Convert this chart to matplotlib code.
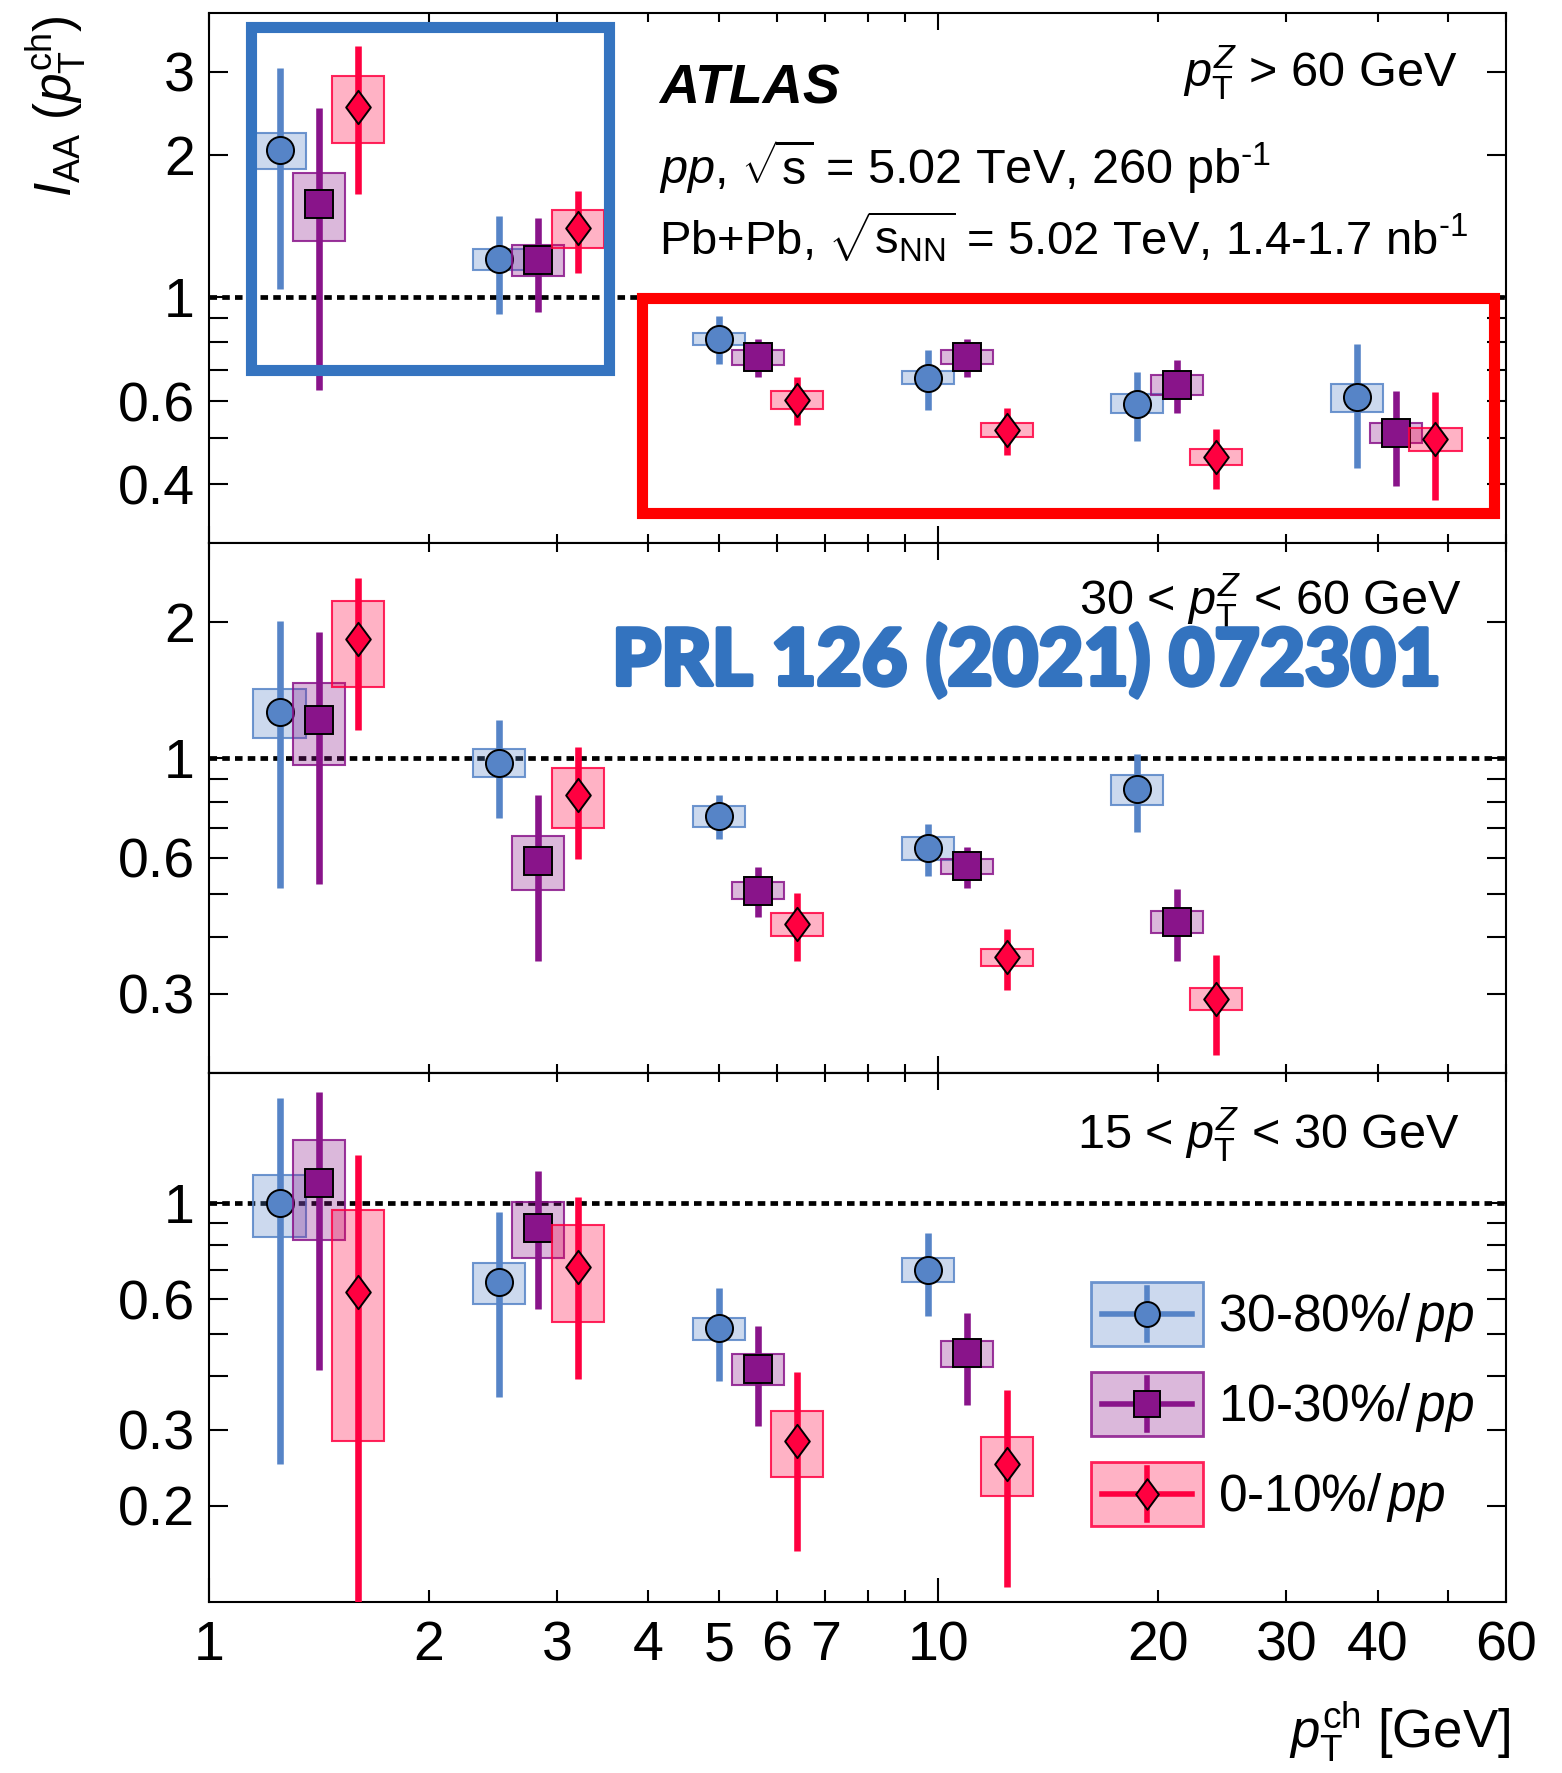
import numpy as np
import matplotlib
matplotlib.use('Agg')
import matplotlib.pyplot as plt
from matplotlib.patches import Rectangle
from matplotlib.lines import Line2D
from matplotlib.path import Path
from matplotlib.ticker import NullFormatter
from matplotlib.colors import to_rgba
import matplotlib.patheffects as pe

plt.rcParams['font.family'] = ['Liberation Sans', 'DejaVu Sans']
plt.rcParams['mathtext.fontset'] = 'custom'
plt.rcParams['mathtext.rm'] = 'Liberation Sans'
plt.rcParams['mathtext.it'] = 'Liberation Sans:italic'
plt.rcParams['mathtext.bf'] = 'Liberation Sans:bold'
plt.rcParams['mathtext.sf'] = 'Liberation Sans'

# ---------------- data ----------------
pt_edges = [1, 2, 4, 8, 15, 30, 60]
legend_labels = ['30-80%/$\\,pp$', '10-30%/$\\,pp$', '0-10%/$\\,pp$']
panel_labels = [r'$p_{\mathrm{T}}^{Z}$ > 60 GeV',
                r'30 < $p_{\mathrm{T}}^{Z}$ < 60 GeV',
                r'15 < $p_{\mathrm{T}}^{Z}$ < 30 GeV']

# pTZ > 60 GeV
iaa60_c3080 = [2.05, 1.20, 0.815, 0.673, 0.593, 0.612]
stat60_c3080 = [1.01, 0.28, 0.097, 0.099, 0.10, 0.18]
sys60_c3080 = [0.18, 0.06, 0.024, 0.022, 0.027, 0.042]
iaa60_c1030 = [1.574, 1.197, 0.744, 0.744, 0.650, 0.514]
stat60_c1030 = [0.94, 0.27, 0.07, 0.07, 0.085, 0.117]
sys60_c1030 = [0.26, 0.09, 0.028, 0.025, 0.031, 0.025]
iaa60_c010 = [2.53, 1.40, 0.604, 0.521, 0.457, 0.498]
stat60_c010 = [0.88, 0.28, 0.07, 0.059, 0.067, 0.128]
sys60_c010 = [0.41, 0.13, 0.026, 0.017, 0.018, 0.028]

# 30 < pTZ < 60 GeV
iaa30_c3080 = [1.266, 0.977, 0.743, 0.630, 0.852]
stat30_c3080 = [0.75, 0.24, 0.083, 0.083, 0.167]
sys30_c3080 = [0.157, 0.07, 0.04, 0.037, 0.066]
iaa30_c1030 = [1.216, 0.591, 0.508, 0.575, 0.433]
stat30_c1030 = [0.69, 0.236, 0.065, 0.06, 0.078]
sys30_c1030 = [0.25, 0.082, 0.022, 0.023, 0.025]
iaa30_c010 = [1.835, 0.826, 0.428, 0.361, 0.2925]
stat30_c010 = [0.68, 0.23, 0.074, 0.056, 0.073]
sys30_c010 = [0.395, 0.126, 0.026, 0.015, 0.017]

# 15 < pTZ < 30 GeV
iaa15_c3080 = [1.0, 0.657, 0.514, 0.703]
stat15_c3080 = [0.75, 0.30, 0.125, 0.153]
sys15_c3080 = [0.164, 0.071, 0.03, 0.044]
iaa15_c1030 = [1.112, 0.878, 0.4136, 0.45]
stat15_c1030 = [0.70, 0.307, 0.108, 0.108]
sys15_c1030 = [0.29, 0.13, 0.034, 0.032]
iaa15_c010 = [0.623, 0.712, 0.2826, 0.2503]
stat15_c010 = [0.67, 0.32, 0.125, 0.12]
sys15_c010 = [0.34, 0.18, 0.049, 0.039]

ylims = [(0.3, 4.0), (0.2, 3.0), (0.12, 2.0)]
y_major = [[0.4, 0.6, 1, 2, 3], [0.3, 0.6, 1, 2], [0.2, 0.3, 0.6, 1]]
y_major_labels = [['0.4', '0.6', '1', '2', '3'], ['0.3', '0.6', '1', '2'],
                  ['0.2', '0.3', '0.6', '1']]
y_minor = [[0.5, 0.7, 0.8, 0.9], [0.4, 0.5, 0.7, 0.8, 0.9],
           [0.4, 0.5, 0.7, 0.8, 0.9]]
x_major = [1, 10]
x_major_labels = ['1', '10']
x_minor = [2, 3, 4, 5, 6, 7, 8, 9, 20, 30, 40, 50, 60]
x_minor_labels = ['2', '3', '4', '5', '6', '7', '', '', '20', '30', '40', '', '60']

# ---------------- style ----------------
C_BLUE = '#5684C7'
C_PURP = '#89148A'
C_RED = '#FF0040'
colors = [C_BLUE, C_PURP, C_RED]
diamond = Path([(0, 1), (0.74, 0), (0, -1), (-0.74, 0), (0, 1)],
               [Path.MOVETO, Path.LINETO, Path.LINETO, Path.LINETO, Path.CLOSEPOLY])
markers = ['o', 's', diamond]
msizes = [19.5, 20, 24]
shifts = [1 / 1.132, 1.0, 1.132]
BOXF = 1.0856

W, H = 1562, 1773
fig = plt.figure(figsize=(W / 100, H / 100), dpi=100)


def fx(x):
    return x / W


def fy(y):
    return 1 - y / H


L, R = 209, 1506
tops = [13, 543, 1073]
bots = [543, 1073, 1602]

panels = [
    [(iaa60_c3080, stat60_c3080, sys60_c3080),
     (iaa60_c1030, stat60_c1030, sys60_c1030),
     (iaa60_c010, stat60_c010, sys60_c010)],
    [(iaa30_c3080, stat30_c3080, sys30_c3080),
     (iaa30_c1030, stat30_c1030, sys30_c1030),
     (iaa30_c010, stat30_c010, sys30_c010)],
    [(iaa15_c3080, stat15_c3080, sys15_c3080),
     (iaa15_c1030, stat15_c1030, sys15_c1030),
     (iaa15_c010, stat15_c010, sys15_c010)],
]

edges = np.array(pt_edges, dtype=float)
centers_all = np.sqrt(edges[:-1] * edges[1:])

axes = []
for ip, (t, b) in enumerate(zip(tops, bots)):
    ax = fig.add_axes([fx(L), fy(b), (R - L) / W, (b - t) / H])
    axes.append(ax)
    ax.set_xscale('log')
    ax.set_yscale('log')
    ax.set_xlim(1, 60)
    ax.set_ylim(*ylims[ip])
    ax.axhline(1.0, color='black', lw=3.4, ls=(0, (1.6, 1.1)), zorder=0.5)

    for js, (vals, stat, sys_) in enumerate(panels[ip]):
        v = np.array(vals)
        s = np.array(stat)
        sy = np.array(sys_)
        x = centers_all[:len(v)] * shifts[js]
        col = colors[js]
        zb = 1 + js * 3
        for xi, vi, si in zip(x, v, sy):
            ax.add_patch(Rectangle((xi / BOXF, vi - si), xi * BOXF - xi / BOXF, 2 * si,
                                   facecolor=to_rgba(col, 0.3),
                                   edgecolor=to_rgba(col, 0.85), lw=1.5, zorder=zb))
        ax.vlines(x, np.maximum(v - s, 1e-3), v + s, colors=col, lw=4.75, zorder=zb + 1)
        ax.plot(x, v, ls='none', marker=markers[js], ms=msizes[js], mfc=col,
                mec='black', mew=1.4, zorder=zb + 2)

    for sp in ax.spines.values():
        sp.set_linewidth(1.5)

    ax.set_yticks(y_major[ip])
    ax.set_yticklabels(y_major_labels[ip])
    ax.set_yticks(y_minor[ip], minor=True)
    ax.yaxis.set_minor_formatter(NullFormatter())
    ax.set_xticks(x_major)
    ax.set_xticks(x_minor, minor=True)
    if ip == 2:
        ax.set_xticklabels(x_major_labels)
        ax.set_xticklabels(x_minor_labels, minor=True)
    else:
        ax.xaxis.set_major_formatter(NullFormatter())
        ax.xaxis.set_minor_formatter(NullFormatter())

    ax.tick_params(which='both', direction='in', top=True, right=True,
                   width=1.5, labelsize=40)
    ax.tick_params(axis='y', which='both', length=14, pad=10)
    ax.tick_params(axis='x', which='major', length=12.5, pad=13)
    ax.tick_params(axis='x', which='minor', length=6.5, pad=13)
    if ip == 2:
        ax.tick_params(axis='x', which='both', top=False)
        ax.tick_params(axis='x', which='major', length=17)
        ax.tick_params(axis='x', which='minor', length=9)
        sec = ax.secondary_xaxis('top', functions=(lambda q: q, lambda q: q))
        sec.set_xticks(x_major)
        sec.set_xticks(x_minor, minor=True)
        sec.xaxis.set_major_formatter(NullFormatter())
        sec.xaxis.set_minor_formatter(NullFormatter())
        sec.tick_params(which='both', direction='in', width=1.5)
        sec.tick_params(which='major', length=12.5)
        sec.tick_params(which='minor', length=6.5)
        sec.spines['top'].set_linewidth(1.5)

# ---------------- texts ----------------
fig.text(fx(56), fy(16), r'$I_{\mathrm{AA}}$ ($p_{\mathrm{T}}^{\mathrm{ch}}$)',
         rotation=90, ha='center', va='top', fontsize=37)
fig.text(fx(1510), fy(1748), r'$p_{\mathrm{T}}^{\mathrm{ch}}$ [GeV]',
         ha='right', va='baseline', fontsize=38)

fig.text(fx(659), fy(103), 'ATLAS', fontsize=40, fontweight='bold',
         fontstyle='italic', va='baseline')
fig.text(fx(1458), fy(87), panel_labels[0], fontsize=35, ha='right', va='baseline')
fig.text(fx(659), fy(184), r'$pp$, $\sqrt{\mathrm{s}}$ = 5.02 TeV, 260 pb$^{\mathrm{\text{-}1}}$',
         fontsize=35, va='baseline')
fig.text(fx(659), fy(254),
         r'Pb+Pb, $\sqrt{\mathrm{s}_{\mathrm{NN}}}$ = 5.02 TeV, 1.4-1.7 nb$^{\mathrm{\text{-}1}}$',
         fontsize=34, va='baseline')
fig.text(fx(1462), fy(615), panel_labels[1], fontsize=35, ha='right', va='baseline')
fig.text(fx(1460), fy(1149), panel_labels[2], fontsize=35, ha='right', va='baseline')

prl = fig.text(fx(612), fy(685), 'PRL 126 (2021) 072301', color='#3373BF',
               fontsize=50, fontweight='black', family=['Lato', 'DejaVu Sans'],
               va='baseline', zorder=20,
               path_effects=[pe.withStroke(linewidth=3, foreground='#3373BF')])
renderer = fig.canvas.get_renderer()
wpx = prl.get_window_extent(renderer).width
prl.set_fontsize(50 * 830.0 / wpx)

# ---------------- legend ----------------
box_tops = [1282, 1372, 1462]
for js in range(3):
    col = colors[js]
    yt = box_tops[js]
    yc = yt + 32
    fig.add_artist(Rectangle((fx(1091), fy(yt + 64)), 112 / W, 64 / H,
                             transform=fig.transFigure,
                             facecolor=to_rgba(col, 0.3),
                             edgecolor=to_rgba(col, 0.85), lw=2, zorder=5))
    fig.add_artist(Line2D([fx(1102), fx(1192)], [fy(yc), fy(yc)],
                          transform=fig.transFigure, color=col, lw=4, zorder=6))
    fig.add_artist(Line2D([fx(1147), fx(1147)], [fy(yc - 26), fy(yc + 26)],
                          transform=fig.transFigure, color=col, lw=4, zorder=6))
    fig.add_artist(Line2D([fx(1147)], [fy(yc)], transform=fig.transFigure,
                          ls='none', marker=markers[js], ms=msizes[js] * 0.92,
                          mfc=col, mec='black', mew=1.4, zorder=7))
    fig.text(fx(1218), fy(yc + 17), legend_labels[js], fontsize=37, va='baseline')

# ---------------- highlight frames ----------------
fig.add_artist(Rectangle((fx(251), fy(370)), (609 - 251) / W, (370 - 27) / H,
                         transform=fig.transFigure, fill=False,
                         edgecolor='#3574C0', lw=8, joinstyle='miter', zorder=30))
fig.add_artist(Rectangle((fx(642), fy(513)), (1494 - 642) / W, (513 - 298) / H,
                         transform=fig.transFigure, fill=False,
                         edgecolor='#FF0000', lw=8, joinstyle='miter', zorder=30))

fig.savefig('out.png', dpi=100)
